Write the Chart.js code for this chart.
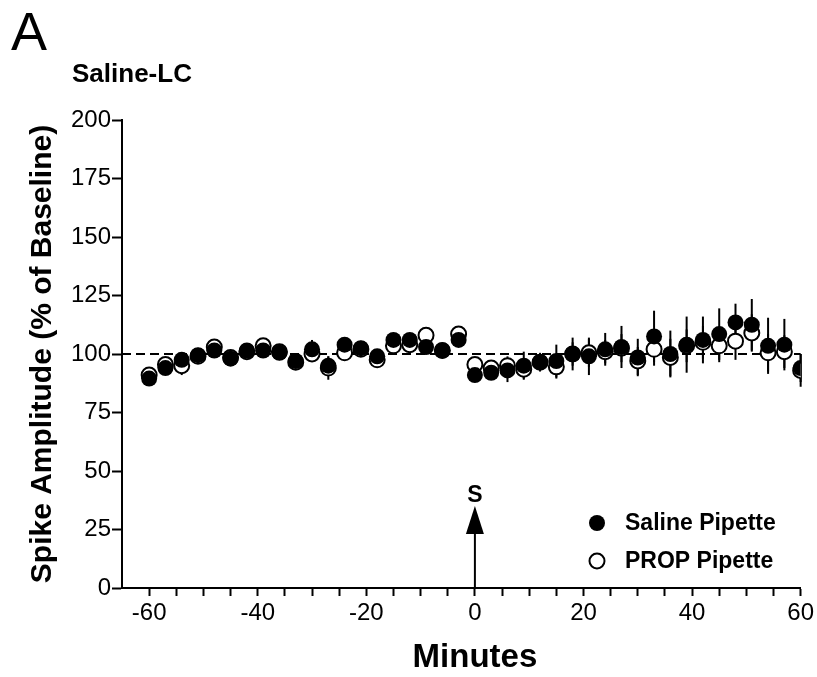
<!doctype html>
<html lang="en">
<head>
<meta charset="UTF-8">
<title>Saline-LC</title>
<script src="https://cdn.jsdelivr.net/npm/chart.js"></script>
<style>
  html, body { margin: 0; padding: 0; background: #fff; }
</style>
</head>
<body>
<canvas id="chart" width="817" height="677"></canvas>
<script>
  // time of each sample, minutes relative to stimulation (S)
  const minutes = [-60, -57, -54, -51, -48, -45, -42, -39, -36, -33, -30, -27, -24, -21, -18, -15, -12, -9, -6, -3,
    0, 3, 6, 9, 12, 15, 18, 21, 24, 27, 30, 33, 36, 39, 42, 45, 48, 51, 54, 57, 60];

  // Saline Pipette (filled circles)
  const salineMean = [89.5, 94, 97.5, 99.5, 101.5, 98, 101.5, 101.5, 100.5, 97, 102, 95, 104, 102.5, 99, 106, 106, 103, 101.5, 106,
    91, 92, 93, 95, 96.5, 97, 100, 99, 102, 103, 98.5, 107.5, 100, 104, 106, 108.5, 113.5, 112.5, 103.5, 104, 94];
  const salineErr = [2, 2, 3, 2, 2, 2, 2, 2, 2, 3, 4, 4, 3, 2, 3, 3, 3, 2, 2, 3,
    3, 3, 5, 6, 4, 7, 7, 8, 7, 9, 8, 11, 10, 12, 10, 11, 8, 11, 12, 11, 6];

  // PROP Pipette (open circles)
  const propMean = [91, 95.5, 95, 99, 103, 98.5, 101, 103.5, 101, 96.5, 100, 94, 100.5, 102, 97.5, 103.5, 104, 108, 101.5, 108.5,
    95.5, 94, 95, 93.5, 96.5, 94.5, 100, 100.5, 101, 102.5, 97, 102, 98.5, 103.5, 105, 103.5, 105.5, 109, 100.5, 101, 93];
  const propErr = [2, 2, 4, 2, 2, 2, 2, 2, 2, 2, 3, 5, 3, 2, 2, 3, 3, 2, 2, 3,
    3, 3, 4, 4, 3, 5, 5, 6, 5, 6, 6, 7, 8, 7, 7, 7, 8, 8, 8, 7, 7];

  const xTicks = [-60, -55, -50, -45, -40, -35, -30, -25, -20, -15, -10, -5, 0, 5, 10, 15, 20, 25, 30, 35, 40, 45, 50, 55, 60];
  const xLabels = [-60, -40, -20, 0, 20, 40, 60];
  const yTicks = [0, 25, 50, 75, 100, 125, 150, 175, 200];
  const baseline = 100;
  const arrowTip = 35;

  const FONT = '"Liberation Sans", Arial, Helvetica, sans-serif';

  function points(mean) {
    return minutes.map((m, i) => ({ x: m, y: mean[i] }));
  }

  const extras = {
    id: 'extras',
    beforeDatasetsDraw(chart) {
      const { ctx, chartArea } = chart;
      const xs = chart.scales.x, ys = chart.scales.y;
      ctx.save();
      // dashed 100% line
      ctx.strokeStyle = '#000';
      ctx.lineWidth = 2;
      ctx.setLineDash([9, 5]);
      ctx.beginPath();
      const yb = ys.getPixelForValue(baseline);
      ctx.moveTo(chartArea.left, yb);
      ctx.lineTo(chartArea.right, yb);
      ctx.stroke();
      ctx.setLineDash([]);
      // error bars (SEM)
      [[propMean, propErr], [salineMean, salineErr]].forEach(([mean, err]) => {
        minutes.forEach((m, i) => {
          const x = xs.getPixelForValue(m);
          ctx.beginPath();
          ctx.moveTo(x, ys.getPixelForValue(mean[i] + err[i]));
          ctx.lineTo(x, ys.getPixelForValue(mean[i] - err[i]));
          ctx.stroke();
        });
      });
      ctx.restore();
    },
    afterDraw(chart) {
      const { ctx } = chart;
      const xs = chart.scales.x, ys = chart.scales.y;
      ctx.save();
      ctx.fillStyle = '#000';
      ctx.strokeStyle = '#000';

      // stimulation arrow
      const x0 = xs.getPixelForValue(0);
      const yTip = ys.getPixelForValue(arrowTip);
      ctx.lineWidth = 2;
      ctx.beginPath();
      ctx.moveTo(x0, ys.getPixelForValue(0));
      ctx.lineTo(x0, yTip + 20);
      ctx.stroke();
      ctx.beginPath();
      ctx.moveTo(x0, yTip);
      ctx.lineTo(x0 - 9, yTip + 28);
      ctx.lineTo(x0 + 9, yTip + 28);
      ctx.closePath();
      ctx.fill();
      ctx.font = 'bold 23px ' + FONT;
      ctx.textAlign = 'center';
      ctx.textBaseline = 'alphabetic';
      ctx.fillText('S', x0, yTip - 4);

      // x axis title, centred on the -60..60 tick range
      ctx.font = 'bold 33px ' + FONT;
      ctx.textBaseline = 'middle';
      ctx.fillText('Minutes', (xs.getPixelForValue(xLabels[0]) + xs.getPixelForValue(xLabels[xLabels.length - 1])) / 2, 658);

      // legend
      ctx.textAlign = 'left';
      ctx.font = 'bold 23px ' + FONT;
      ctx.beginPath();
      ctx.arc(597, 523, 8, 0, Math.PI * 2);
      ctx.fill();
      ctx.fillText('Saline Pipette', 625, 524);
      ctx.beginPath();
      ctx.lineWidth = 2;
      ctx.arc(597, 561, 7.5, 0, Math.PI * 2);
      ctx.stroke();
      ctx.fillText('PROP Pipette', 625, 562);

      // panel letter and heading
      ctx.font = '54px ' + FONT;
      ctx.textBaseline = 'alphabetic';
      ctx.fillText('A', 11, 50);
      ctx.font = 'bold 26px ' + FONT;
      ctx.fillText('Saline-LC', 72, 82);
      ctx.restore();
    }
  };

  new Chart(document.getElementById('chart'), {
    type: 'scatter',
    data: {
      datasets: [
        {
          label: 'Saline Pipette',
          data: points(salineMean),
          pointRadius: 8,
          pointBackgroundColor: '#000',
          pointBorderColor: '#000',
          pointBorderWidth: 0
        },
        {
          label: 'PROP Pipette',
          data: points(propMean),
          pointRadius: 7.5,
          pointBackgroundColor: '#fff',
          pointBorderColor: '#000',
          pointBorderWidth: 2
        }
      ]
    },
    options: {
      responsive: false,
      animation: false,
      events: [],
      layout: { padding: { top: 120, right: 16, left: 0, bottom: 0 } },
      plugins: {
        legend: { display: false },
        tooltip: { enabled: false }
      },
      scales: {
        x: {
          type: 'linear',
          min: -65,
          max: 60,
          afterBuildTicks: (s) => { s.ticks = xTicks.map(v => ({ value: v })); },
          afterFit: (s) => { s.height = 89; },
          ticks: {
            autoSkip: false,
            maxRotation: 0,
            padding: 3,
            color: '#000',
            font: { family: FONT, size: 24 },
            callback: (v) => xLabels.includes(v) ? String(v) : ''
          },
          grid: { drawOnChartArea: false, drawTicks: true, tickLength: 8, tickWidth: 2, tickColor: '#000' },
          border: { color: '#000', width: 2 },
          title: { display: false, text: 'Minutes' }
        },
        y: {
          min: 0,
          max: 200,
          afterBuildTicks: (s) => { s.ticks = yTicks.map(v => ({ value: v })); },
          afterFit: (s) => { s.width = 122; },
          ticks: {
            padding: 1,
            color: '#000',
            font: { family: FONT, size: 24 }
          },
          grid: { drawOnChartArea: false, drawTicks: true, tickLength: 10, tickWidth: 2, tickColor: '#000' },
          border: { color: '#000', width: 2 },
          title: {
            display: true,
            text: 'Spike Amplitude (% of Baseline)',
            color: '#000',
            font: { family: FONT, size: 30, weight: 'bold' },
            padding: { top: 25, bottom: 0 }
          }
        }
      }
    },
    plugins: [extras]
  });
</script>
</body>
</html>
